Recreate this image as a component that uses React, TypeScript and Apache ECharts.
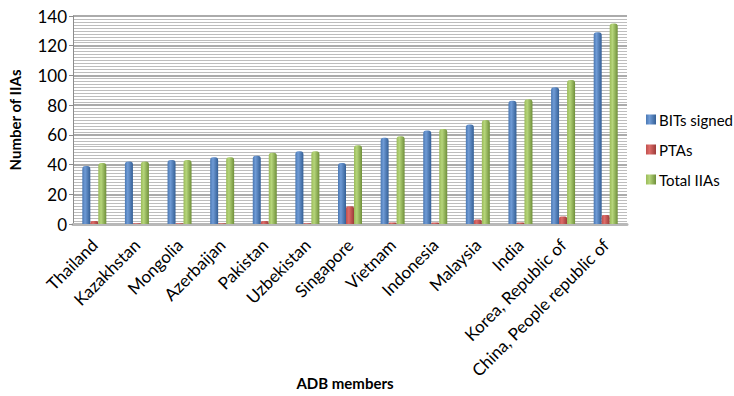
import React, { useEffect, useRef } from "react";
import * as echarts from "echarts";

const categories = [
  "Thailand",
  "Kazakhstan",
  "Mongolia",
  "Azerbaijan",
  "Pakistan",
  "Uzbekistan",
  "Singapore",
  "Vietnam",
  "Indonesia",
  "Malaysia",
  "India",
  "Korea, Republic of",
  "China, People republic of",
];
const bitsSigned = [39, 42, 43, 45, 46, 49, 41, 58, 63, 67, 83, 92, 129];
const ptas = [2, 0.5, 0.5, 0.5, 2, 0.5, 12, 1, 1, 3, 1, 5, 6];
const totalIIAs = [41, 42, 43, 45, 48, 49, 53, 59, 64, 70, 84, 97, 135];
const xAxisTitle = "ADB members";

const FONT = "Lato, 'Open Sans', 'Liberation Sans', sans-serif";

function grad(light: string, base: string, dark: string) {
  return new echarts.graphic.LinearGradient(0, 0, 1, 0, [
    { offset: 0, color: base },
    { offset: 0.35, color: light },
    { offset: 1, color: dark },
  ]);
}

export default function App() {
  const ref = useRef<HTMLDivElement>(null);
  useEffect(() => {
    if (!ref.current) return;
    document.body.style.margin = "0";
    document.body.style.overflow = "hidden";
    document.documentElement.style.overflow = "hidden";
    const chart = echarts.init(ref.current, null, { renderer: "svg" });
    const barCommon = {
      type: "bar" as const,
      barWidth: 8,
      barGap: "0%",
      barCategoryGap: "44%",
    };
    chart.setOption({
      animation: false,
      backgroundColor: "#ffffff",
      textStyle: { fontFamily: FONT },
      grid: {
        left: 73,
        right: 107,
        top: 16,
        bottom: 172,
        containLabel: false,
        outerBoundsMode: "none",
      },
      graphic: [
        {
          type: "text",
          x: 345,
          y: 383,
          style: {
            text: xAxisTitle,
            fontFamily: FONT,
            fontSize: 15,
            fontWeight: "bold",
            fill: "#000",
            align: "center",
            verticalAlign: "middle",
          },
        },
      ],
      legend: {
        orient: "vertical",
        left: 641,
        top: 107,
        itemWidth: 10,
        itemHeight: 10,
        itemGap: 15,
        icon: "rect",
        textStyle: { fontFamily: FONT, fontSize: 15, color: "#000", padding: [0, 0, 0, -2] },
        data: ["BITs signed", "PTAs", "Total IIAs"],
      },
      xAxis: {
        type: "category",
        data: categories,
        axisLine: { show: true, lineStyle: { color: "#b8b8b8", width: 3 } },
        axisTick: { show: false },
        axisLabel: {
          interval: 0,
          rotate: 45,
          fontFamily: FONT,
          fontSize: 17,
          color: "#000",
          margin: 18,
        },
      },
      yAxis: {
        type: "value",
        min: 0,
        max: 140,
        interval: 20,
        name: "Number of IIAs",
        nameLocation: "middle",
        nameGap: 51,
        nameRotate: 90,
        nameTextStyle: { fontFamily: FONT, fontSize: 15, fontWeight: "bold", color: "#000" },
        axisLine: { show: true, lineStyle: { color: "#8c8c8c", width: 1 } },
        axisTick: { show: true, length: 4, lineStyle: { color: "#8c8c8c" } },
        axisLabel: { fontFamily: FONT, fontSize: 17, color: "#000", margin: 6 },
        splitLine: {
          show: true,
          lineStyle: { color: "#8f8f8f", width: 1.5 },
        },
        minorTick: { show: false, splitNumber: 10 },
        minorSplitLine: {
          show: true,
          lineStyle: { color: "#bdbdbd", width: 1 },
        },
      },
      series: [
        {
          ...barCommon,
          name: "BITs signed",
          data: bitsSigned,
          itemStyle: {
            color: grad("#6f9bd6", "#4a78b3", "#345f95"),
            borderRadius: [3, 3, 0, 0],
          },
        },
        {
          ...barCommon,
          name: "PTAs",
          data: ptas,
          itemStyle: {
            color: grad("#dd6c69", "#c0504d", "#9c3b39"),
            borderRadius: [2, 2, 0, 0],
          },
        },
        {
          ...barCommon,
          name: "Total IIAs",
          data: totalIIAs,
          itemStyle: {
            color: grad("#b5d57a", "#9bbb59", "#6f8f3a"),
            borderRadius: [3, 3, 0, 0],
          },
        },
      ],
    });
    return () => chart.dispose();
  }, []);
  return (
    <div
      ref={ref}
      style={{ position: "fixed", left: 0, top: 0, width: 734, height: 396, overflow: "hidden" }}
    />
  );
}
